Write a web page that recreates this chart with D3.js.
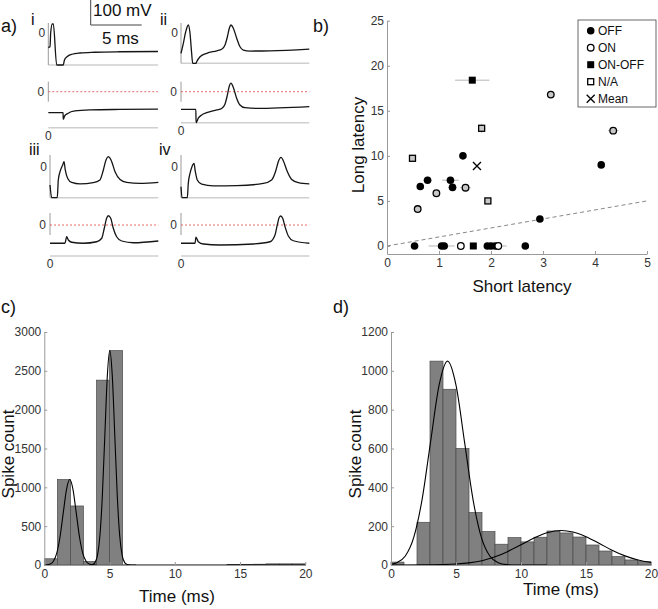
<!DOCTYPE html>
<html>
<head>
<meta charset="utf-8">
<script src="https://cdn.jsdelivr.net/npm/d3@7"></script>
<style>
body { margin: 0; background: #fff; }
svg { font-family: "Liberation Sans", Arial, sans-serif; }
</style>
</head>
<body>
<svg id="fig" width="658" height="609"></svg>
<script>
// ---- panel a: membrane potential traces, [time (ms), mV] ----
var traceIUp = [[0,-58],[0.17,-55],[0.23,-1],[0.39,36],[0.49,36],[0.82,-128],[1.46,-128],[1.58,-108],[1.83,-95],[2.31,-85],[3.1,-80],[4.56,-77],[7.0,-75],[10.71,-74]];
var traceILow = [[0,-84],[1.44,-84],[1.46,-110],[1.6,-97],[1.9,-87],[2.6,-77],[4.1,-73],[7.0,-71],[10.71,-70]];
var traceIIUp = [[0,-81],[0.23,-41],[0.46,5],[0.72,32],[0.88,-1],[1.04,-81],[1.14,-121],[1.46,-121],[1.53,-115],[1.86,-95],[2.51,-81],[3.49,-71],[3.97,-65],[4.3,-48],[4.53,-15],[4.72,19],[4.88,32],[5.11,19],[5.44,-21],[5.76,-55],[6.09,-68],[6.74,-72],[8.69,-71],[12.53,-64]];
var traceIILow = [[0,-70.5],[1.45,-70.5],[1.47,-124],[1.69,-106],[2.02,-93],[2.51,-84],[3.49,-73],[3.97,-67],[4.3,-49],[4.53,-13],[4.72,23],[4.88,34],[5.11,17],[5.44,-27],[5.76,-53],[6.25,-64],[7.39,-67],[12.53,-60]];
var traceIIIUp = [[0,-73],[0.17,-124],[0.71,-124],[0.81,-53],[0.98,-20],[1.24,7],[1.37,20],[1.49,-13],[1.73,-47],[2.12,-63],[2.93,-69],[4.23,-64],[4.88,-53],[5.21,-13],[5.47,27],[5.69,40],[5.96,27],[6.35,-20],[6.84,-51],[7.49,-63],[8.79,-67],[10.58,-63]];
var traceIIILow = [[0,-73],[1.46,-73],[1.63,-47],[1.79,-60],[2.12,-69],[3.25,-73],[4.56,-67],[5.05,-53],[5.3,-13],[5.53,27],[5.69,37],[5.93,27],[6.18,-13],[6.51,-47],[7.0,-64],[8.14,-71],[10.58,-64]];
var traceIVUp = [[0,-80],[0.1,-124],[0.62,-124],[0.71,-67],[0.88,-27],[1.07,0],[1.27,13],[1.4,-20],[1.59,-53],[2.02,-70],[3.15,-77],[5.44,-76],[8.04,-67],[8.85,-53],[9.28,-13],[9.5,20],[9.77,37],[9.99,24],[10.32,-13],[10.81,-51],[11.46,-64],[12.53,-69]];
var traceIVLow = [[0,-73],[1.37,-73],[1.46,-49],[1.69,-67],[2.18,-76],[3.81,-80],[7.06,-76],[8.69,-67],[9.18,-40],[9.4,0],[9.6,31],[9.74,36],[9.93,27],[10.16,-7],[10.48,-44],[10.97,-63],[12.53,-73]];

// ---- panel b: latencies, [short, long, xErr, yErr] ----
var offPoints = [[0.53,0,0,0],[1.05,0,0.25,0],[1.10,0,0,0],[1.93,0,0,0],[2.00,0,0,0],[2.08,0,0,0],[2.66,0,0,0],
  [0.64,6.6,0,0],[0.78,7.3,0.08,0.4],[1.22,7.3,0.16,0.3],[1.26,6.5,0.08,0.4],[1.46,10.0,0,0],[2.94,3.0,0,0],[4.12,9.0,0,0]];
var onPoints = [[1.42,0,0,0],[2.14,0,0.16,0],[0.59,4.1,0.05,0.2],[0.95,5.85,0.05,0.2],[1.51,6.47,0.1,0.1],[3.15,16.8,0.05,0.3],[4.35,12.8,0.1,0.1]];
var onOffPoints = [[1.66,0,0,0],[1.64,18.4,0.33,0]];
var naPoints = [[0.49,9.73,0.05,0.2],[1.82,13.06,0.07,0.5],[1.94,5.0,0.05,0.2]];
var meanPoint = [1.73, 8.88];
var unityLine = [[0,0],[5,5]];
var legendLabels = ['OFF', 'ON', 'ON-OFF', 'N/A', 'Mean'];
var latTicksX = [0,1,2,3,4,5];
var latTicksY = [0,5,10,15,20,25];

// ---- panels c, d: spike-time histograms (1 ms bins) ----
var binStarts = [0,1,2,3,4,5,6,7,8,9,10,11,12,13,14,15,16,17,18,19];
var countsC = [80,1100,760,45,2380,2760,3,0,0,0,0,0,0,0,5,5,10,15,15,15];
var countsD = [15,0,220,1050,905,600,270,172,107,141,119,143,175,165,144,103,72,43,26,17];
var fitC1 = [[0,0],[0.2,2],[0.45,12],[0.7,48],[0.95,149],[1.2,357],[1.45,667],[1.7,971],[1.95,1100],[2.2,971],[2.45,667],[2.7,357],[2.95,149],[3.2,48],[3.45,12],[3.7,2],[4,0]];
var fitC2 = [[3.5,0],[3.69,6],[3.88,30],[4.07,121],[4.26,373],[4.45,897],[4.64,1675],[4.83,2435],[5.02,2760],[5.21,2435],[5.40,1675],[5.59,897],[5.78,373],[5.97,121],[6.16,30],[6.35,6],[6.6,0],[20,0]];
var fitD1 = [[0,4],[0.45,12],[1.1,46],[1.75,142],[2.4,341],[3.05,637],[3.7,926],[4.35,1050],[5.0,926],[5.65,637],[6.3,341],[6.95,142],[7.6,46],[8.25,12],[8.9,2],[9.6,0],[12,0]];
var fitD2 = [[0,0],[3,1],[4,2],[5,5],[6,11],[7,22],[8,42],[9,70],[10,104],[11,139],[12,166],[13.1,178],[14,170],[15,146],[16,112],[17,76],[18,47],[19,26],[20,13]];
var timeTicks = [0,5,10,15,20];
var countTicksC = [0,500,1000,1500,2000,2500,3000];
var countTicksD = [0,200,400,600,800,1000,1200];

var svg = d3.select('#fig');
var axisGray = '#9a9a9a';
var plain = d3.format('d');

function styleAxis(g) {
  g.select('.domain').attr('stroke', axisGray);
  g.selectAll('.tick line').attr('stroke', axisGray);
  g.selectAll('.tick text').attr('fill', '#333').attr('font-size', 12);
  g.attr('font-family', null).attr('font-size', null);
}

function label(txt, x, y, size, anchor, rot) {
  var t = svg.append('text').text(txt).attr('font-size', size).attr('fill', '#111')
    .attr('text-anchor', anchor || 'start');
  if (rot) t.attr('transform', 'translate(' + x + ',' + y + ') rotate(-90)');
  else t.attr('x', x).attr('y', y);
  return t;
}

function hline(x1, x2, y, col, w, dash) {
  svg.append('line').attr('x1', x1).attr('x2', x2).attr('y1', y).attr('y2', y)
    .attr('stroke', col).attr('stroke-width', w || 1).attr('stroke-dasharray', dash || null);
}
function vline(x, y1, y2, col, w) {
  svg.append('line').attr('x1', x).attr('x2', x).attr('y1', y1).attr('y2', y2)
    .attr('stroke', col).attr('stroke-width', w || 1);
}

// ================= panel a =================
var subA = [
  {name: 'i',   up: traceIUp,   low: traceILow,   x0: 48.3, x1: 158,   upY: [65, 23],     upDom: [-128, 40],  lowY: [127.7, 81.7], lowDom: [-144, 40], lx: 31,  ly: 25},
  {name: 'ii',  up: traceIIUp,  low: traceIILow,  x0: 181,  x1: 309.3, upY: [63.3, 23],   upDom: [-121, 40],  lowY: [122.7, 81.7], lowDom: [-124, 40], lx: 160, ly: 25},
  {name: 'iii', up: traceIIIUp, low: traceIIILow, x0: 50,   x1: 158.3, upY: [197.7, 155], upDom: [-124, 46.8], lowY: [256, 213],   lowDom: [-124, 48], lx: 29,  ly: 155},
  {name: 'iv',  up: traceIVUp,  low: traceIVLow,  x0: 181,  x1: 309.3, upY: [197.7, 155], upDom: [-124, 46.8], lowY: [256, 213],   lowDom: [-124, 48], lx: 159, ly: 155}
];

subA.forEach(function(s) {
  var xs = d3.scaleLinear().domain([0, (s.x1 - s.x0) / 10.24]).range([s.x0, s.x1]);
  var yu = d3.scaleLinear().domain(s.upDom).range(s.upY);
  var yl = d3.scaleLinear().domain(s.lowDom).range(s.lowY);

  // upper trace axes
  hline(s.x0, s.x1, s.upY[0], '#cfcfcf', 1.5);
  vline(s.x0, s.upY[1], s.upY[0], axisGray);
  label('0', s.x0 - 3, yu(0) + 4, 12, 'end').attr('fill', '#333');

  // lower trace axes
  hline(s.x0, s.x1, s.lowY[0], '#cfcfcf', 1.5);
  vline(s.x0, s.lowY[1], yl(0) + 10, axisGray);
  hline(s.x0, s.x1, yl(0), '#e0443c', 0.8, '2,2');
  label('0', s.x0 - 4, yl(0) + 4, 12, 'end').attr('fill', '#333');
  label('0', s.x0, s.lowY[0] + 12, 12, 'middle').attr('fill', '#333');

  var line = function(ys) {
    return d3.line().x(function(d) { return xs(d[0]); }).y(function(d) { return ys(d[1]); }).curve(d3.curveMonotoneX);
  };
  svg.append('path').datum(s.up).attr('d', line(yu))
    .attr('fill', 'none').attr('stroke', '#151515').attr('stroke-width', 1.3);
  svg.append('path').datum(s.low).attr('d', line(yl))
    .attr('fill', 'none').attr('stroke', '#151515').attr('stroke-width', 1.3);

  label(s.name, s.lx, s.ly, 16);
});

// scale bar
vline(90.7, 0, 25, '#444');
hline(90.7, 141.7, 25, '#444');
label('100 mV', 93, 16, 17);
label('5 ms', 102, 44, 17);

label('a)', 1, 32, 18);
label('b)', 313, 32, 18);
label('c)', 1, 313, 18);
label('d)', 333, 313, 18);

// ================= panel b =================
var xb = d3.scaleLinear().domain([0, 5]).range([387, 647]);
var yb = d3.scaleLinear().domain([-0.89, 25]).range([254, 20.7]);

svg.append('path').datum(unityLine)
  .attr('d', d3.line().x(function(d) { return xb(d[0]); }).y(function(d) { return yb(d[1]); }))
  .attr('stroke', '#888').attr('stroke-width', 1).attr('stroke-dasharray', '4,3').attr('fill', 'none');

var allPts = [];
offPoints.forEach(function(p) { allPts.push({p: p, type: 'OFF'}); });
onPoints.forEach(function(p) { allPts.push({p: p, type: 'ON'}); });
onOffPoints.forEach(function(p) { allPts.push({p: p, type: 'ON-OFF'}); });
naPoints.forEach(function(p) { allPts.push({p: p, type: 'N/A'}); });

var gb = svg.append('g');
// error bars
allPts.forEach(function(d) {
  var p = d.p;
  if (p[2] > 0) gb.append('line').attr('x1', xb(p[0] - p[2])).attr('x2', xb(p[0] + p[2]))
    .attr('y1', yb(p[1])).attr('y2', yb(p[1])).attr('stroke', '#b5b5b5').attr('stroke-width', 1);
  if (p[3] > 0) gb.append('line').attr('x1', xb(p[0])).attr('x2', xb(p[0]))
    .attr('y1', yb(p[1] - p[3])).attr('y2', yb(p[1] + p[3])).attr('stroke', '#b5b5b5').attr('stroke-width', 1);
});

function marker(g, type, x, y, fill) {
  if (type === 'OFF') {
    g.append('circle').attr('cx', x).attr('cy', y).attr('r', 3.8).attr('fill', '#000');
  } else if (type === 'ON') {
    g.append('circle').attr('cx', x).attr('cy', y).attr('r', 3.3)
      .attr('fill', fill).attr('stroke', '#000').attr('stroke-width', 1.3);
  } else if (type === 'ON-OFF') {
    g.append('rect').attr('x', x - 3.5).attr('y', y - 3.5).attr('width', 7).attr('height', 7).attr('fill', '#000');
  } else if (type === 'N/A') {
    g.append('rect').attr('x', x - 3).attr('y', y - 3).attr('width', 6).attr('height', 6)
      .attr('fill', fill).attr('stroke', '#000').attr('stroke-width', 1.3);
  } else {
    g.append('path').attr('d', 'M' + (x - 4) + ',' + (y - 4) + 'L' + (x + 4) + ',' + (y + 4) +
      'M' + (x - 4) + ',' + (y + 4) + 'L' + (x + 4) + ',' + (y - 4))
      .attr('stroke', '#000').attr('stroke-width', 1.3);
  }
}

allPts.forEach(function(d) {
  marker(gb, d.type, xb(d.p[0]), yb(d.p[1]), d.p[1] > 0 ? '#c8c8c8' : '#fff');
});
marker(gb, 'Mean', xb(meanPoint[0]), yb(meanPoint[1]));

var axb = svg.append('g').attr('transform', 'translate(0,254)')
  .call(d3.axisBottom(xb).tickValues(latTicksX).tickFormat(plain).tickSizeInner(-3).tickSizeOuter(0).tickPadding(4));
styleAxis(axb);
var ayb = svg.append('g').attr('transform', 'translate(387,0)')
  .call(d3.axisLeft(yb).tickValues(latTicksY).tickFormat(plain).tickSizeInner(-3).tickSizeOuter(0).tickPadding(3));
styleAxis(ayb);

label('Short latency', 522, 292, 17, 'middle');
label('Long latency', 364, 145, 17, 'middle', true);

// legend
svg.append('rect').attr('x', 578).attr('y', 20).attr('width', 78).attr('height', 87)
  .attr('fill', '#fff').attr('stroke', '#444').attr('stroke-width', 0.8);
legendLabels.forEach(function(name, i) {
  var y = 30.7 + i * 17;
  marker(svg, name, 590.7, y, '#fff');
  label(name, 598, y + 4.5, 12);
});

// ================= panels c, d =================
function histPanel(counts, fits, xRange, yMax, yTicks) {
  var x = d3.scaleLinear().domain([0, 20]).range(xRange);
  var y = d3.scaleLinear().domain([0, yMax]).range([565, 332]);
  var g = svg.append('g');
  g.selectAll('rect').data(binStarts).enter().append('rect')
    .attr('x', function(b) { return x(b); })
    .attr('width', function(b) { return x(b + 1) - x(b); })
    .attr('y', function(b, i) { return y(counts[i]); })
    .attr('height', function(b, i) { return y(0) - y(counts[i]); })
    .attr('fill', '#808080').attr('stroke', '#4a4a4a').attr('stroke-width', 0.7);
  var line = d3.line().x(function(d) { return x(d[0]); }).y(function(d) { return y(d[1]); }).curve(d3.curveMonotoneX);
  fits.forEach(function(f) {
    g.append('path').datum(f).attr('d', line).attr('fill', 'none').attr('stroke', '#000').attr('stroke-width', 1.1);
  });
  var ax = svg.append('g').attr('transform', 'translate(0,565)')
    .call(d3.axisBottom(x).tickValues(timeTicks).tickFormat(plain).tickSizeInner(-3).tickSizeOuter(0).tickPadding(4));
  styleAxis(ax);
  var ay = svg.append('g').attr('transform', 'translate(' + xRange[0] + ',0)')
    .call(d3.axisLeft(y).tickValues(yTicks).tickFormat(plain).tickSizeInner(-3).tickSizeOuter(0).tickPadding(3));
  styleAxis(ay);
}

histPanel(countsC, [fitC1, fitC2], [44.3, 305.3], 3000, countTicksC);
histPanel(countsD, [fitD1, fitD2], [391, 651], 1200, countTicksD);

label('Spike count', 14, 454, 17, 'middle', true);
label('Time (ms)', 177, 602, 17, 'middle');
label('Spike count', 361, 454, 17, 'middle', true);
label('Time (ms)', 561, 595, 17, 'middle');
</script>
</body>
</html>
